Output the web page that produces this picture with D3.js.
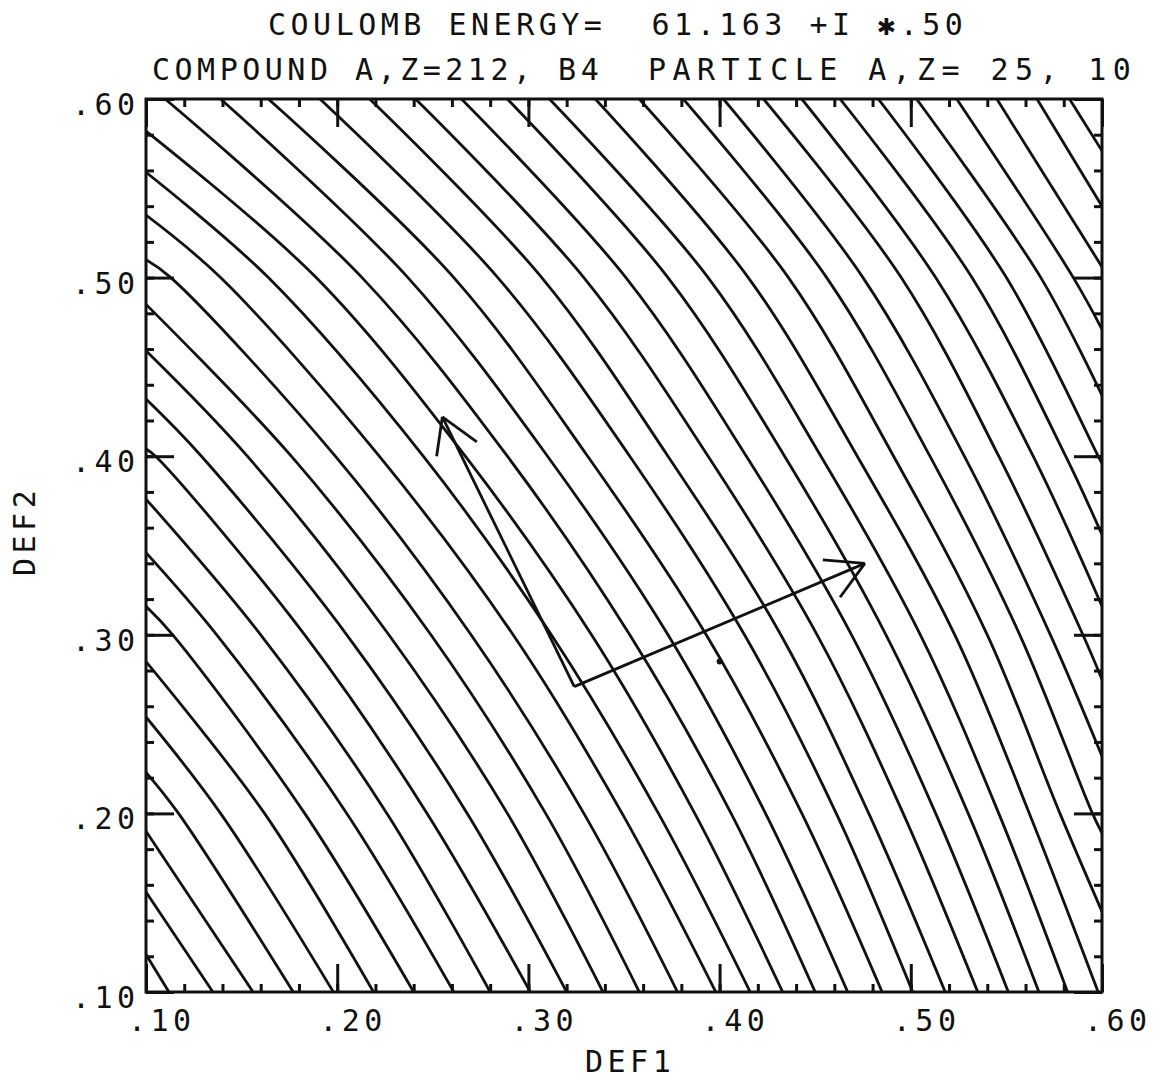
<!DOCTYPE html>
<html>
<head>
<meta charset="utf-8">
<script src="https://cdn.jsdelivr.net/npm/d3@7"></script>
<style>
  body { margin: 0; background: #fff; }
  text { font-family: "DejaVu Sans Mono", monospace; fill: #111; white-space: pre; }
</style>
</head>
<body>
<svg id="chart" width="1164" height="1087"></svg>
<script>
// Contour lines of the Coulomb energy in the (DEF1, DEF2) plane.
// Each contour enters through the top or left edge and leaves through the bottom or right edge.
const topCross = [0.110, 0.139, 0.164, 0.191, 0.217, 0.241, 0.265, 0.289, 0.311, 0.335, 0.358,
                  0.381, 0.402, 0.423, 0.443, 0.463, 0.483, 0.503, 0.524, 0.545, 0.566, 0.583];   // DEF1 at DEF2 = .60
const leftEntry = [0.582, 0.559, 0.535, 0.510, 0.485, 0.459, 0.432, 0.404, 0.376, 0.346, 0.316,
                   0.285, 0.254, 0.223, 0.190, 0.156, 0.121];                                      // DEF2 at DEF1 = .10
const bottomCross = [0.112, 0.135, 0.156, 0.177, 0.198, 0.219, 0.240, 0.261, 0.280, 0.301, 0.320,
                     0.339, 0.358, 0.378, 0.398, 0.416, 0.433, 0.450, 0.467, 0.485, 0.501, 0.518,
                     0.535, 0.551, 0.567, 0.582, 0.598];                                           // DEF1 at DEF2 = .10
const rightExit = [0.571, 0.540, 0.506, 0.471, 0.434, 0.396, 0.356, 0.316, 0.275, 0.232, 0.189, 0.145]; // DEF2 at DEF1 = .60

// Crossings of the contours with intermediate DEF2 levels (DEF1 values, left to right)
const levelValues = [0.50, 0.40, 0.30, 0.20];
const cross50 = [0.113, 0.139, 0.164, 0.189, 0.213, 0.237, 0.261, 0.284, 0.307, 0.329, 0.351, 0.373,
                 0.394, 0.415, 0.436, 0.456, 0.475, 0.495, 0.513, 0.532, 0.550, 0.568, 0.585];
const cross40 = [0.105, 0.129, 0.153, 0.176, 0.199, 0.222, 0.245, 0.267, 0.289, 0.310, 0.331, 0.353,
                 0.373, 0.394, 0.414, 0.434, 0.453, 0.472, 0.491, 0.510, 0.528, 0.546, 0.564, 0.581, 0.598];
const cross30 = [0.114, 0.137, 0.160, 0.183, 0.205, 0.227, 0.249, 0.270, 0.292, 0.312, 0.333, 0.353,
                 0.373, 0.393, 0.413, 0.432, 0.451, 0.469, 0.487, 0.505, 0.523, 0.540, 0.557, 0.573, 0.590];
const cross20 = [0.117, 0.139, 0.162, 0.183, 0.205, 0.226, 0.247, 0.268, 0.289, 0.309, 0.329, 0.349,
                 0.368, 0.387, 0.406, 0.424, 0.443, 0.461, 0.478, 0.496, 0.513, 0.530, 0.546, 0.562, 0.578, 0.595];
const levelCross = [cross50, cross40, cross30, cross20];

// Gradient arrows and the marked point
const arrowOrigin = [0.324, 0.271];
const arrowTips = [[0.255, 0.422], [0.476, 0.340]];
const arrowHeads = [[[0.252, 0.400], [0.273, 0.408]], [[0.454, 0.342], [0.463, 0.321]]];
const markPoint = [0.400, 0.285];

const xTicksMajor = [0.10, 0.20, 0.30, 0.40, 0.50, 0.60];
const xTickLabels = [".10", ".20", ".30", ".40", ".50", ".60"];
const yTicksMajor = [0.10, 0.20, 0.30, 0.40, 0.50, 0.60];
const yTickLabels = [".10", ".20", ".30", ".40", ".50", ".60"];
const minorStep = 0.02;

const title1 = "COULOMB ENERGY=  61.163 +I \u2731.50";
const title2a = "COMPOUND A,Z=212, B4";
const title2b = "PARTICLE A,Z= 25, 10";
const xLabel = "DEF1";
const yLabel = "DEF2";

// ---- layout ----
const svg = d3.select("#chart");
const plot = { left: 146, right: 1102, top: 99, bottom: 992 };
const x = d3.scaleLinear().domain([0.1, 0.6]).range([plot.left, plot.right]);
const y = d3.scaleLinear().domain([0.1, 0.6]).range([plot.bottom, plot.top]);

svg.append("rect").attr("width", 1164).attr("height", 1087).attr("fill", "#fff");

svg.append("clipPath").attr("id", "plotClip")
  .append("rect").attr("x", plot.left).attr("y", plot.top)
  .attr("width", plot.right - plot.left).attr("height", plot.bottom - plot.top);

// Assemble each contour: entry point, level crossings from top to bottom, exit point
const starts = [...topCross.slice().reverse().map(v => [v, 0.6]), ...leftEntry.map(v => [0.1, v])];
const ends = [...rightExit.map(v => [0.6, v]), ...bottomCross.slice().reverse().map(v => [v, 0.1])];
const n = Math.min(starts.length, ends.length);
const contours = d3.range(n).map(j => [starts[j]]);
levelValues.forEach((lv, i) => {
  const ids = d3.range(n).filter(j => starts[j][1] > lv && ends[j][1] < lv).sort((a, b) => b - a);
  const xs = levelCross[i];
  ids.forEach((j, k) => { if (k < xs.length) contours[j].push([xs[k], lv]); });
});
contours.forEach((c, j) => c.push(ends[j]));

const line = d3.line().x(d => x(d[0])).y(d => y(d[1])).curve(d3.curveCatmullRom.alpha(0.5));

svg.append("g").attr("clip-path", "url(#plotClip)")
  .selectAll("path").data(contours).join("path")
  .attr("d", line).attr("fill", "none").attr("stroke", "#111").attr("stroke-width", 2.8);

// Arrows
const arrows = svg.append("g").attr("stroke", "#111").attr("stroke-width", 2.8).attr("fill", "none");
arrowTips.forEach((tip, i) => {
  arrows.append("path").attr("d", d3.line()([[x(arrowOrigin[0]), y(arrowOrigin[1])], [x(tip[0]), y(tip[1])]]));
  arrowHeads[i].forEach(h => {
    arrows.append("path").attr("d", d3.line()([[x(tip[0]), y(tip[1])], [x(h[0]), y(h[1])]]));
  });
});
svg.append("circle").attr("cx", x(markPoint[0])).attr("cy", y(markPoint[1])).attr("r", 3).attr("fill", "#111");

// Frame
svg.append("rect").attr("x", plot.left).attr("y", plot.top)
  .attr("width", plot.right - plot.left).attr("height", plot.bottom - plot.top)
  .attr("fill", "none").attr("stroke", "#111").attr("stroke-width", 3);

// Inward ticks on all four sides
const minorTicks = d3.range(0.10, 0.6001, minorStep).map(v => +v.toFixed(2));
const majorLen = 28, minorLen = 8;
function addAxis(axisFn, scale, transform, ticks, len) {
  const g = svg.append("g").attr("transform", transform)
    .call(axisFn(scale).tickValues(ticks).tickSize(-len).tickFormat(""));
  g.select(".domain").remove();
  g.selectAll(".tick line").attr("stroke", "#111").attr("stroke-width", 3);
}
addAxis(d3.axisBottom, x, `translate(0,${plot.bottom})`, minorTicks, minorLen);
addAxis(d3.axisBottom, x, `translate(0,${plot.bottom})`, xTicksMajor, majorLen);
addAxis(d3.axisTop, x, `translate(0,${plot.top})`, minorTicks, minorLen);
addAxis(d3.axisTop, x, `translate(0,${plot.top})`, xTicksMajor, majorLen);
addAxis(d3.axisLeft, y, `translate(${plot.left},0)`, minorTicks, minorLen);
addAxis(d3.axisLeft, y, `translate(${plot.left},0)`, yTicksMajor, majorLen);
addAxis(d3.axisRight, y, `translate(${plot.right},0)`, minorTicks, minorLen);
addAxis(d3.axisRight, y, `translate(${plot.right},0)`, yTicksMajor, majorLen);

// Text
const fs = 30, ls = 4.5;
function txt(s, tx, ty, attrs = {}) {
  const t = svg.append("text").attr("x", tx).attr("y", ty)
    .attr("font-size", fs).attr("letter-spacing", ls).attr("xml:space", "preserve").text(s);
  Object.entries(attrs).forEach(([k, v]) => t.attr(k, v));
  return t;
}
txt(title1, 268, 35);
txt(title2a, 152, 80);
txt(title2b, 648, 80, { "letter-spacing": 6.4 });

xTicksMajor.forEach((v, i) => txt(xTickLabels[i], x(v) - 18, 1031));
yTicksMajor.forEach((v, i) => txt(yTickLabels[i], 72, y(v) + 16));

txt(xLabel, 585, 1072);
txt(yLabel, 0, 0, { transform: "translate(35,576) rotate(-90)" });
</script>
</body>
</html>
